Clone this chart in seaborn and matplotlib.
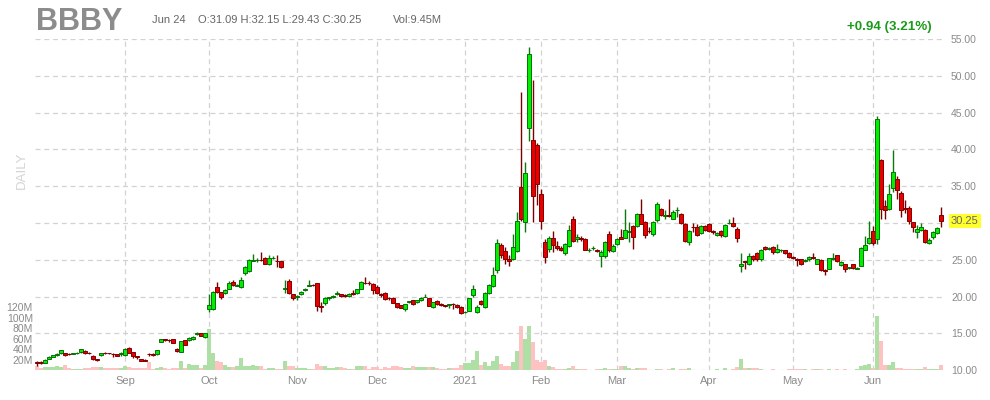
import pandas as pd
import numpy as np
import matplotlib
matplotlib.use("Agg")
import matplotlib.pyplot as plt
import seaborn as sns

# --- DATA (BBBY daily, Jul 31 2020 - Jun 24 2021) ---
holidays = ["2020-09-07", "2020-11-26", "2020-12-25", "2021-01-01",
            "2021-01-18", "2021-02-15", "2021-04-02", "2021-05-31"]

opens = [
    # Jul 31 / Aug
    11.10, 11.05, 11.00, 11.55, 11.85, 12.10, 12.30, 12.30, 12.20, 12.20, 12.30, 12.45, 12.65, 12.35, 12.00, 11.50, 12.05, 12.40, 12.35, 12.25, 12.20, 12.25,
    # Sep
    12.05, 13.05, 12.50, 12.00, 11.50, 11.45, 12.20, 12.20, 12.15, 13.90, 14.20, 14.10, 14.20, 12.90, 12.55, 14.10, 14.10, 14.20, 14.95, 15.00, 14.50,
    # Oct
    18.30, 18.30, 21.25, 20.57, 20.44, 21.10, 21.93, 21.50, 21.25, 23.23, 23.46, 24.90, 24.95, 25.00, 25.20, 24.50, 25.25, 24.85, 24.80, 21.10, 22.10, 20.30,
    # Nov
    19.90, 20.34, 20.85, 21.50, 21.60, 21.80, 18.70, 19.08, 19.80, 19.90, 20.30, 20.30, 20.20, 20.10, 20.50, 20.44, 21.10, 21.90, 21.85, 21.66,
    # Dec
    21.25, 20.30, 20.44, 19.80, 19.80, 19.08, 18.80, 18.30, 19.30, 19.53, 19.30, 19.53, 19.95, 19.76, 18.54, 19.40, 19.05, 18.80, 18.90, 19.05, 18.90, 18.62,
    # Jan
    17.90, 18.08, 20.20, 17.95, 19.38, 18.62, 20.52, 21.43, 23.60, 26.98, 26.16, 25.17, 25.17, 26.20, 34.89, 30.14, 42.93, 41.30, 40.60,
    # Feb
    33.98, 27.40, 26.43, 28.03, 26.90, 26.65, 25.86, 26.94, 30.60, 27.85, 28.03, 27.76, 26.30, 26.60, 26.30, 25.50, 25.50, 28.57, 26.22,
    # Mar
    27.20, 28.12, 28.03, 28.80, 29.56, 29.56, 31.28, 30.15, 28.90, 28.48, 30.38, 31.96, 31.00, 31.05, 30.60, 31.70, 31.28, 29.90, 27.44, 29.50, 29.47, 28.66, 29.56,
    # Apr
    29.83, 28.85, 28.34, 28.90, 28.25, 30.00, 30.06, 29.25, 24.14, 24.80, 24.37, 25.50, 25.86, 25.05, 26.76, 26.50, 26.76, 26.00, 26.30, 26.30, 25.86,
    # May
    25.35, 25.05, 25.05, 24.90, 25.05, 25.35, 24.50, 24.95, 23.60, 23.80, 25.15, 25.63, 24.23, 24.37, 23.90, 24.37, 23.80, 24.19, 26.40, 27.35,
    # Jun
    28.94, 27.76, 38.50, 32.28, 31.96, 34.81, 36.03, 34.13, 32.00, 32.10, 30.07, 28.71, 29.00, 29.03, 27.35, 28.12, 28.66, 31.09,
]

highs = [
    11.25, 11.20, 11.50, 11.90, 12.10, 12.30, 12.80, 12.35, 12.30, 12.35, 12.55, 12.90, 12.70, 12.50, 12.05, 11.55, 12.40, 12.50, 12.40, 12.30, 12.25, 12.50,
    13.00, 13.10, 12.55, 12.00, 11.55, 11.50, 12.30, 12.30, 12.80, 14.30, 14.30, 14.20, 14.25, 13.00, 14.00, 14.15, 14.50, 14.70, 15.20, 15.10, 15.05,
    20.30, 20.70, 22.00, 20.60, 21.00, 22.10, 22.20, 21.70, 22.60, 24.10, 25.10, 25.80, 25.30, 26.10, 25.40, 25.60, 25.50, 25.60, 24.90, 22.20, 22.40, 20.40,
    20.20, 20.80, 21.20, 22.30, 21.70, 21.90, 19.30, 19.90, 20.00, 20.20, 20.70, 20.40, 20.30, 20.50, 20.90, 21.10, 22.10, 22.70, 22.10, 21.80,
    21.60, 20.50, 20.60, 19.90, 19.90, 19.20, 18.90, 19.00, 19.40, 19.60, 19.60, 19.90, 20.40, 19.80, 19.30, 19.50, 19.10, 18.90, 19.00, 19.20, 19.00, 18.70,
    18.10, 19.80, 21.60, 18.80, 19.50, 20.60, 21.70, 24.00, 27.80, 27.30, 26.80, 25.60, 28.56, 31.50, 47.77, 38.30, 53.96, 49.40, 40.90,
    34.60, 27.80, 28.30, 28.90, 27.50, 26.90, 27.30, 29.70, 30.90, 28.55, 28.20, 27.90, 26.60, 26.90, 26.50, 26.30, 27.60, 28.90, 27.10,
    28.00, 29.25, 31.96, 30.20, 29.70, 31.40, 33.20, 30.30, 29.50, 30.30, 32.80, 32.10, 31.70, 33.30, 31.70, 32.20, 31.40, 30.00, 29.00, 30.00, 29.80, 29.70, 29.70,
    30.00, 29.00, 28.80, 29.00, 29.80, 30.50, 30.80, 29.40, 25.90, 24.90, 25.90, 25.60, 26.00, 26.50, 26.90, 26.70, 26.90, 27.20, 26.50, 26.40, 26.00,
    25.50, 25.20, 25.10, 25.10, 25.50, 25.95, 25.10, 25.10, 23.70, 25.30, 25.90, 25.70, 24.80, 24.50, 24.00, 24.50, 24.00, 26.70, 28.20, 30.30,
    29.60, 44.48, 38.70, 33.10, 35.35, 39.96, 36.35, 34.30, 33.10, 32.30, 30.20, 29.70, 29.95, 29.20, 27.90, 28.90, 29.50, 32.15,
]

lows = [
    10.60, 10.90, 10.95, 11.50, 11.80, 12.00, 12.25, 11.95, 12.05, 12.15, 12.25, 12.40, 12.25, 12.20, 11.45, 11.30, 12.00, 12.25, 12.20, 11.80, 11.90, 11.90,
    11.95, 12.35, 11.70, 11.60, 11.20, 11.20, 11.90, 12.00, 12.10, 13.85, 14.00, 13.90, 13.70, 12.50, 12.50, 13.40, 14.00, 14.10, 14.80, 14.60, 14.45,
    17.90, 18.20, 20.50, 19.70, 20.30, 21.00, 21.50, 21.40, 21.20, 22.90, 23.40, 24.80, 24.70, 24.80, 24.40, 24.30, 25.10, 24.00, 23.90, 20.50, 20.40, 19.60,
    19.50, 20.20, 20.80, 21.40, 21.40, 18.00, 17.95, 18.90, 19.60, 19.80, 20.20, 20.00, 19.95, 20.00, 20.20, 20.30, 21.00, 21.70, 21.60, 20.30,
    20.30, 20.00, 19.50, 19.60, 19.10, 18.50, 18.40, 18.00, 19.20, 18.90, 19.10, 19.40, 19.90, 18.70, 18.40, 18.90, 18.70, 18.60, 18.40, 18.30, 18.50, 17.60,
    17.80, 18.00, 19.90, 17.80, 18.80, 18.50, 20.40, 21.30, 23.20, 25.30, 24.50, 24.20, 25.00, 26.00, 30.30, 28.80, 41.20, 30.14, 32.40,
    29.20, 24.60, 26.00, 26.00, 26.30, 26.20, 25.70, 26.80, 27.40, 27.45, 27.60, 26.30, 26.00, 26.40, 26.00, 24.05, 25.30, 26.10, 26.00,
    27.00, 27.90, 27.90, 27.45, 26.50, 29.40, 29.80, 27.90, 28.60, 28.30, 30.20, 30.90, 30.50, 30.80, 30.50, 30.80, 29.90, 27.40, 27.00, 28.80, 28.30, 28.50, 28.90,
    28.80, 28.50, 28.20, 28.10, 28.10, 29.80, 29.50, 27.40, 23.40, 23.80, 24.30, 24.90, 24.90, 24.90, 26.30, 26.30, 25.80, 25.90, 26.10, 25.80, 25.20,
    25.10, 24.15, 24.30, 24.70, 24.90, 25.10, 24.40, 23.50, 22.90, 23.70, 25.00, 24.70, 24.10, 23.40, 23.70, 23.70, 23.70, 24.10, 26.30, 27.20,
    27.00, 27.10, 30.50, 30.60, 31.80, 34.20, 33.30, 30.80, 31.30, 29.90, 28.80, 27.90, 28.90, 27.30, 27.10, 27.80, 28.50, 29.43,
]

closes = [
    10.95, 11.00, 11.45, 11.80, 12.05, 12.15, 12.75, 12.10, 12.15, 12.30, 12.40, 12.85, 12.30, 12.30, 11.50, 11.40, 12.35, 12.35, 12.30, 12.20, 12.00, 12.30,
    12.95, 12.40, 11.95, 11.75, 11.30, 11.30, 12.15, 12.10, 12.75, 14.20, 14.05, 14.05, 13.75, 12.60, 13.95, 13.45, 14.45, 14.55, 15.05, 14.65, 15.00,
    18.85, 20.60, 20.57, 19.98, 20.90, 21.80, 21.56, 21.60, 22.24, 23.96, 24.95, 25.00, 25.00, 24.95, 24.50, 25.20, 25.30, 24.80, 24.05, 21.15, 20.50, 19.85,
    20.10, 20.66, 21.10, 21.60, 21.55, 18.76, 18.60, 19.84, 19.90, 20.10, 20.50, 20.15, 20.05, 20.40, 20.30, 20.98, 22.00, 21.80, 21.80, 20.90,
    20.44, 20.20, 19.63, 19.75, 19.20, 18.62, 18.50, 18.99, 19.35, 18.95, 19.50, 19.84, 20.00, 18.76, 19.22, 19.00, 18.85, 18.75, 18.95, 19.00, 18.60, 17.81,
    17.95, 19.76, 20.98, 18.62, 18.95, 20.44, 21.56, 23.00, 27.34, 25.62, 25.17, 24.85, 26.80, 30.23, 30.60, 36.83, 52.88, 33.67, 35.30,
    30.27, 25.40, 28.00, 27.00, 26.65, 26.40, 27.10, 29.00, 27.58, 28.12, 27.76, 26.40, 26.35, 26.65, 26.25, 26.10, 27.44, 26.30, 26.85,
    27.89, 27.76, 29.00, 28.85, 28.12, 31.19, 29.93, 28.34, 28.85, 30.15, 32.64, 31.06, 31.10, 31.00, 31.50, 31.75, 30.00, 27.58, 28.89, 29.45, 28.43, 29.56, 29.00,
    28.93, 28.80, 28.66, 28.35, 29.70, 30.05, 29.60, 27.98, 24.50, 24.70, 25.54, 25.09, 25.09, 26.40, 26.45, 26.55, 26.00, 26.45, 26.35, 25.95, 25.32,
    25.30, 25.00, 24.50, 24.95, 25.40, 25.30, 25.05, 23.60, 23.55, 25.18, 25.20, 24.86, 24.64, 23.74, 23.90, 23.83, 23.85, 26.54, 26.99, 28.03,
    27.31, 44.16, 31.96, 31.83, 34.00, 36.93, 34.45, 31.74, 31.95, 30.29, 29.48, 29.16, 29.40, 27.44, 27.67, 28.71, 29.31, 30.25,
]

# volume in millions of shares
volumes = [
    7.6, 4.4, 5.7, 5.7, 5.7, 8.9, 5.7, 10.8, 4.4, 3.2, 3.2, 3.2, 4.4, 4.4, 5.7, 6.3, 6.3, 5.1, 5.1, 5.1, 4.4, 4.4,
    8.9, 5.7, 4.4, 4.4, 4.4, 4.4, 15.2, 3.2, 5.1, 5.7, 4.4, 3.2, 5.1, 4.4, 18.4, 4.4, 11.4, 9.5, 9.5, 4.4, 9.5,
    79.4, 33.0, 18.4, 15.2, 10.8, 5.7, 5.7, 7.6, 23.5, 7.6, 7.6, 10.8, 7.6, 7.6, 3.2, 5.1, 5.1, 3.2, 3.2, 18.4, 8.9, 7.6,
    5.1, 5.1, 5.1, 3.2, 3.2, 12.7, 8.9, 8.9, 5.1, 5.1, 7.0, 5.7, 4.4, 3.2, 3.2, 8.9, 8.9, 8.9, 3.2, 7.0,
    7.0, 3.2, 7.0, 5.1, 7.6, 8.9, 7.0, 5.1, 5.1, 8.9, 6.3, 6.3, 6.3, 7.0, 7.0, 4.4, 3.2, 1.9, 5.1, 5.1, 5.1, 10.8,
    14.0, 14.0, 20.3, 36.2, 10.8, 15.2, 7.6, 18.4, 28.0, 12.7, 8.9, 7.6, 15.2, 36.2, 85.0, 59.7, 85.0, 54.6, 20.3,
    15.2, 20.3, 8.9, 5.7, 3.2, 3.2, 3.2, 5.1, 7.6, 3.2, 3.2, 3.2, 1.3, 1.3, 3.2, 3.2, 4.4, 3.2, 3.2,
    3.2, 7.6, 8.9, 5.1, 3.2, 5.1, 5.1, 5.1, 1.3, 1.3, 3.2, 3.2, 1.3, 3.2, 5.1, 1.3, 2.5, 3.2, 5.1, 1.3, 1.3, 1.3, 1.3,
    1.3, 1.3, 3.2, 1.3, 5.1, 1.3, 3.2, 7.0, 22.2, 5.1, 5.1, 5.1, 5.1, 3.2, 1.3, 1.3, 3.2, 1.3, 1.3, 1.3, 3.2,
    3.2, 3.2, 3.2, 3.2, 1.3, 3.2, 3.2, 3.2, 1.3, 3.2, 1.3, 3.2, 1.3, 3.2, 1.3, 1.3, 3.2, 7.6, 9.5, 12.7,
    5.1, 104.0, 55.0, 10.8, 10.8, 15.2, 5.1, 5.1, 3.2, 3.2, 3.2, 3.2, 3.2, 7.0, 3.2, 3.2, 3.2, 9.45,
]

dates = pd.bdate_range("2020-07-31", "2021-06-24", freq="C", holidays=holidays)
df = pd.DataFrame({"date": dates, "open": opens, "high": highs,
                   "low": lows, "close": closes, "vol": volumes})
df["idx"] = np.arange(len(df))
df["dir"] = np.where(df["close"] >= df["open"], "up", "down")

# primer dia de cada mes (desde septiembre) -> ticks del eje x
first_days = df.groupby(df["date"].dt.to_period("M"))["idx"].min().iloc[2:]
month_labels = [p.strftime("%b") if p.month != 1 else str(p.year) for p in first_days.index]

# --- ESTILO ---
sns.set_theme(style="white")
plt.rcParams["font.family"] = ["Liberation Sans", "DejaVu Sans"]

GRID = dict(color="#d2d2d2", linestyle=(0, (4, 3)), linewidth=0.9)
TXT = "#8a8a8a"

fig = plt.figure(figsize=(9.9, 4.0), dpi=100)
ax_v = fig.add_axes([35 / 990, 29.7 / 400, 909 / 990, 331.8 / 400])
ax_p = ax_v.twinx()

# --- VOLUMEN ---
sns.barplot(data=df, x="idx", y="vol", hue="dir", dodge=False, native_scale=True,
            palette={"up": "#aee0a6", "down": "#ffc2c2"}, width=1.0, saturation=1,
            errorbar=None, legend=False, linewidth=0, ax=ax_v)
ax_v.set_ylim(0, 631)
ax_v.set_xlim(-0.5, len(df) - 0.25)
vol_ticks = [20, 40, 60, 80, 100, 120]
ax_v.set_yticks(vol_ticks)
ax_v.set_yticklabels([f"{v}M" for v in vol_ticks])
ax_v.set_xticks(first_days.values)
ax_v.set_xticklabels(month_labels)
ax_v.tick_params(axis="y", left=False, length=0, pad=1.5, labelsize=7.5, labelcolor=TXT)
ax_v.tick_params(axis="x", bottom=False, length=0, pad=4, labelsize=8, labelcolor=TXT)
ax_v.set_xlabel("")
ax_v.set_ylabel("")
ax_v.grid(axis="x", **GRID)
ax_v.grid(axis="y", visible=False)

# --- VELAS ---
up = df["dir"] == "up"
wick_c = np.where(up, "#0a7a0a", "#7a0000")
body_c = np.where(up, "#00ee00", "#e60000")
edge_c = np.where(up, "#087008", "#800000")
body_lo = np.minimum(df["open"], df["close"])
body_h = np.maximum((df["close"] - df["open"]).abs(), 0.06)

ax_p.vlines(df["idx"], df["low"], df["high"], colors=wick_c, linewidth=1.0, zorder=3)
ax_p.bar(df["idx"], body_h, bottom=body_lo, width=0.76, color=body_c,
         edgecolor=edge_c, linewidth=0.7, zorder=4)
ax_p.set_ylim(10, 55.05)
last = df.iloc[-1]
price_ticks = np.arange(10, 56, 5)
ax_p.set_yticks(price_ticks)
# la etiqueta 30.00 queda tapada por el recuadro del ultimo precio
ax_p.set_yticklabels(["" if abs(v - last["close"]) < 1 else f"{v:.2f}" for v in price_ticks])
ax_p.tick_params(axis="y", right=False, length=0, pad=5, labelsize=7.5, labelcolor=TXT)
ax_p.grid(axis="y", **GRID)
ax_p.set_axisbelow(True)

for a in (ax_v, ax_p):
    for s in a.spines.values():
        s.set_visible(False)

# ultimo precio
ax_p.text(1.0075, last["close"], f"{last['close']:.2f}", transform=ax_p.get_yaxis_transform(),
          ha="left", va="center", fontsize=8, color="#666666", zorder=10,
          bbox=dict(boxstyle="square,pad=0.18", fc="#ffff2e", ec="none"))

# --- TEXTOS ---
fig.text(36 / 990, 1 - 29.5 / 400, "BBBY", fontsize=22, fontweight="bold", color="#8c8c8c", va="baseline")
fig.text(152 / 990, 1 - 22.7 / 400, "Jun 24", fontsize=8, color="#666666", va="baseline")
fig.text(198 / 990, 1 - 22.7 / 400,
         f"O:{last['open']:.2f} H:{last['high']:.2f} L:{last['low']:.2f} C:{last['close']:.2f}",
         fontsize=8, color="#666666", va="baseline")
fig.text(393 / 990, 1 - 22.7 / 400, f"Vol:{last['vol']:.2f}M", fontsize=8, color="#666666", va="baseline")
prev = df.iloc[-2]["close"]
chg = last["close"] - prev
fig.text(932 / 990, 1 - 30 / 400, f"+{chg:.2f} ({chg / prev * 100:.2f}%)",
         fontsize=9.6, fontweight="bold", color="#1a9a1a", ha="right", va="baseline")
fig.text(22 / 990, 1 - 170 / 400, "DAILY", rotation=90, fontsize=9.5, color="#d4d4d4",
         ha="center", va="center")

fig.savefig("out.png", dpi=100)
